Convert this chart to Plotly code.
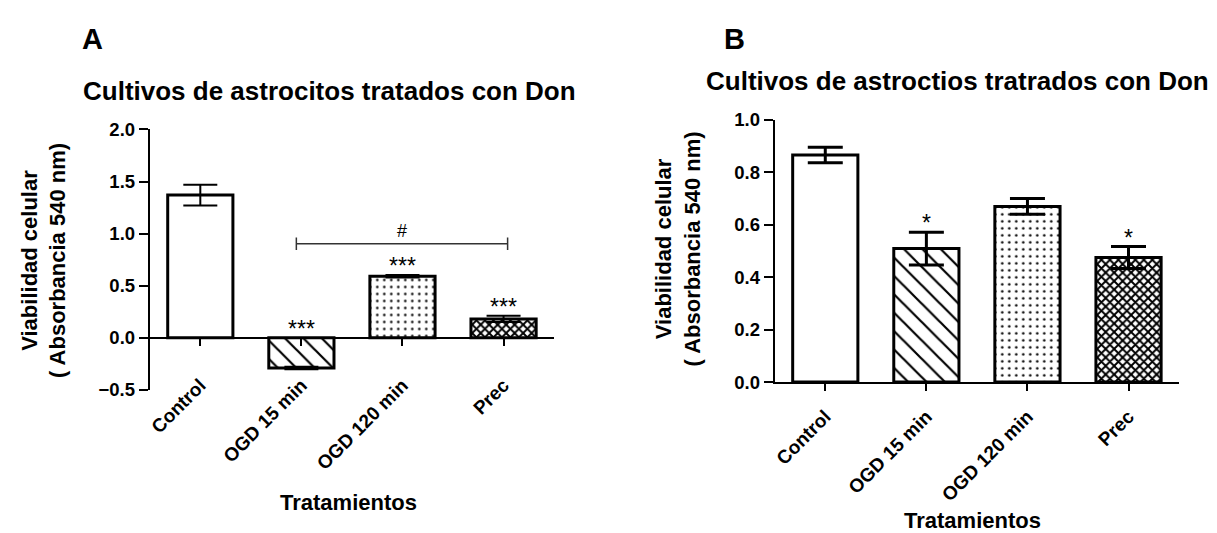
import plotly.graph_objects as go

# ---------------- data ----------------
categories = ["Control", "OGD 15 min", "OGD 120 min", "Prec"]

a_values = [1.37, -0.29, 0.59, 0.18]
a_errors = [0.10, 0.012, 0.012, 0.03]
a_marks = ["", "***", "***", "***"]
a_yticks = [-0.5, 0.0, 0.5, 1.0, 1.5, 2.0]

b_values = [0.866, 0.509, 0.670, 0.475]
b_errors = [0.030, 0.062, 0.030, 0.042]
b_marks = ["", "*", "", "*"]
b_yticks = [0.0, 0.2, 0.4, 0.6, 0.8, 1.0]

a_title = "Cultivos de astrocitos tratados con Don"
b_title = "Cultivos de astroctios tratrados con Don"
y_title = "Viabilidad celular<br>( Absorbancia 540 nm)"
x_title = "Tratamientos"

# ---------------- style ----------------
FONT = "Liberation Sans, Arial, sans-serif"
pat_shapes = ["", "\\", ".", "x"]
pat_sizes = [8, 13, 7, 6]
pat_solid = [0.0, 0.17, 0.1, 0.55]

W, H = 1217, 533
A_X = [140 / W, 545 / W]
A_Y = [(H - 386) / H, (H - 115) / H]
B_X = [766 / W, 1171 / W]
B_Y = [(H - 378) / H, (H - 105) / H]
a_range = [-0.5, 2.0]
b_range = [0.0, 1.0]
a_zero = A_Y[0] + (0 - a_range[0]) / (a_range[1] - a_range[0]) * (A_Y[1] - A_Y[0])

fig = go.Figure()


def bar_trace(vals, errs, xa, ya, ew, ethick):
    return go.Bar(
        x=categories, y=vals, xaxis=xa, yaxis=ya, width=0.645,
        marker=dict(
            color="white",
            line=dict(color="black", width=3),
            pattern=dict(shape=pat_shapes, size=pat_sizes, solidity=pat_solid,
                         fgcolor="black", bgcolor="white", fillmode="replace"),
        ),
        error_y=dict(type="data", array=errs, visible=True, color="black",
                     thickness=ethick, width=ew),
        showlegend=False, hoverinfo="skip",
    )


fig.add_trace(bar_trace(a_values, a_errors, "x", "y", 17, 2))
fig.add_trace(bar_trace(b_values, b_errors, "x2", "y2", 17.5, 3))

tickfont = dict(family=FONT, size=19, color="black", weight="bold")
ytickfont = dict(family=FONT, size=18.5, color="black", weight="bold")
common_x = dict(type="category", range=[-0.5, 3.5], showline=True, linewidth=2,
                linecolor="black", ticks="outside", ticklen=7, tickwidth=2,
                tickcolor="black", tickangle=-45, tickfont=tickfont,
                showgrid=False, zeroline=False, fixedrange=True)
common_y = dict(showline=True, linewidth=2, linecolor="black", ticks="outside",
                ticklen=9, tickwidth=2, tickcolor="black", tickformat=".1f",
                tickfont=ytickfont, showgrid=False, zeroline=False, fixedrange=True)

fig.update_layout(
    width=W, height=H, margin=dict(l=0, r=0, t=0, b=0),
    paper_bgcolor="white", plot_bgcolor="white", bargap=0.35,
    font=dict(family=FONT, color="black"),
    xaxis=dict(domain=A_X, anchor="free", position=a_zero, ticklabelstandoff=21, **common_x),
    yaxis=dict(domain=A_Y, anchor="x", range=a_range, tickvals=a_yticks, **common_y),
    xaxis2=dict(domain=B_X, anchor="y2", ticklabelstandoff=7, **common_x),
    yaxis2=dict(domain=B_Y, anchor="x2", range=b_range, tickvals=b_yticks, **common_y),
)

ann = []
bold = dict(family=FONT, color="black", weight="bold")
# panel letters
ann.append(dict(text="A", x=83 / W, y=(H - 21) / H, font=dict(size=29, **bold)))
ann.append(dict(text="B", x=726 / W, y=(H - 21) / H, font=dict(size=29, **bold)))
# titles
ann.append(dict(text=a_title, x=320 / W, y=(H - 75) / H, font=dict(size=26, **bold)))
ann.append(dict(text=b_title, x=949 / W, y=(H - 65) / H, font=dict(size=26, **bold)))
# y titles
ann.append(dict(text=y_title, x=34 / W, y=(H - 251) / H, textangle=-90,
                font=dict(size=22, **bold)))
ann.append(dict(text=y_title, x=669 / W, y=(H - 239) / H, textangle=-90,
                font=dict(size=22, **bold)))
# x titles
ann.append(dict(text=x_title, x=339 / W, y=(H - 503) / H, font=dict(size=22, **bold)))
ann.append(dict(text=x_title, x=964 / W, y=(H - 522) / H, font=dict(size=22, **bold)))
for a in ann:
    a.update(xref="paper", yref="paper", showarrow=False, xanchor="center", yanchor="middle")

# significance marks
star_font = dict(family=FONT, size=23, color="black")
for marks, vals, errs, xr, yr in [(a_marks, a_values, a_errors, "x", "y"),
                                   (b_marks, b_values, b_errors, "x2", "y2")]:
    for c, m, v, e in zip(categories, marks, vals, errs):
        if m:
            ann.append(dict(text=m, x=c, y=max(0, v + e), xref=xr, yref=yr,
                            showarrow=False, yanchor="middle", yshift=9,
                            font=star_font))

# bracket between OGD 15 min and Prec (panel A)
br_y, br_x0, br_x1, br_h = 0.903, 0.95, 3.04, 0.06
shapes = [
    dict(type="line", xref="x", yref="y", x0=br_x0, x1=br_x1, y0=br_y, y1=br_y,
         line=dict(color="#333", width=1.5)),
    dict(type="line", xref="x", yref="y", x0=br_x0, x1=br_x0, y0=br_y - br_h, y1=br_y + br_h,
         line=dict(color="#333", width=1.5)),
    dict(type="line", xref="x", yref="y", x0=br_x1, x1=br_x1, y0=br_y - br_h, y1=br_y + br_h,
         line=dict(color="#333", width=1.5)),
]
ann.append(dict(text="#", x=2, y=br_y, xref="x", yref="y", showarrow=False,
                yanchor="middle", yshift=13, font=dict(family=FONT, size=18, color="black")))

fig.update_layout(annotations=ann, shapes=shapes)
fig.write_html("out.html")
